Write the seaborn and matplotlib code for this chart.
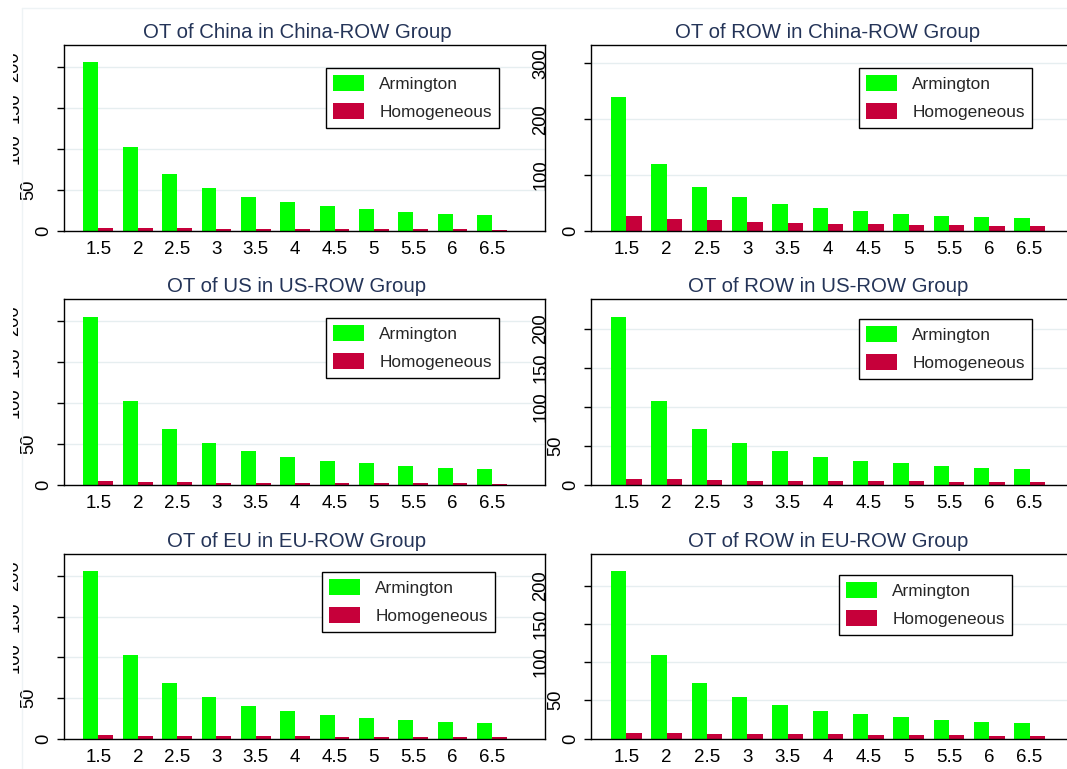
import pandas as pd
import numpy as np
import matplotlib
matplotlib.use("Agg")
import matplotlib.pyplot as plt
from matplotlib.transforms import blended_transform_factory, ScaledTranslation, Bbox
from matplotlib.lines import Line2D
import seaborn as sns

# === Data ===
sigma_labels = ["1.5", "2", "2.5", "3", "3.5", "4", "4.5", "5", "5.5", "6", "6.5"]

china_arm = [205.7, 102.8, 69.5, 52.0, 41.8, 35.0, 30.1, 26.4, 23.6, 21.1, 19.1]
china_hom = [3.7, 3.6, 3.4, 2.8, 2.7, 2.6, 2.4, 2.2, 2.0, 1.9, 1.8]
row_china_arm = [240.3, 119.9, 79.3, 60.2, 48.9, 41.1, 35.2, 31.0, 27.4, 25.0, 22.7]
row_china_hom = [26.2, 21.5, 19.7, 16.7, 14.9, 13.1, 12.5, 11.3, 10.1, 9.7, 8.9]
us_arm = [205.3, 102.4, 68.3, 51.6, 41.1, 34.6, 29.3, 26.4, 23.2, 20.7, 19.1]
us_hom = [4.5, 3.8, 3.5, 3.0, 2.8, 2.6, 2.3, 2.1, 2.0, 1.9, 1.8]
row_us_arm = [215.8, 107.7, 71.8, 53.8, 43.2, 36.3, 30.8, 27.8, 24.4, 21.8, 20.1]
row_us_hom = [7.7, 7.3, 6.4, 5.6, 5.5, 5.3, 4.7, 4.5, 4.3, 3.9, 3.7]
eu_arm = [206.1, 102.6, 68.1, 50.9, 40.6, 33.6, 28.7, 25.0, 22.5, 20.1, 18.8]
eu_hom = [4.1, 3.5, 3.3, 2.8, 2.7, 2.5, 2.3, 2.1, 2.0, 1.9, 1.8]
row_eu_arm = [219.6, 109.8, 73.2, 54.9, 44.0, 36.6, 31.4, 28.3, 24.8, 22.2, 20.9]
row_eu_hom = [7.8, 7.4, 6.5, 6.3, 5.6, 5.4, 4.8, 4.7, 4.5, 3.9, 3.8]

titles = ["OT of China in China-ROW Group", "OT of ROW in China-ROW Group",
          "OT of US in US-ROW Group", "OT of ROW in US-ROW Group",
          "OT of EU in EU-ROW Group", "OT of ROW in EU-ROW Group"]
series = [(china_arm, china_hom), (row_china_arm, row_china_hom),
          (us_arm, us_hom), (row_us_arm, row_us_hom),
          (eu_arm, eu_hom), (row_eu_arm, row_eu_hom)]
yticks = [[0, 50, 100, 150, 200], [0, 100, 200, 300],
          [0, 50, 100, 150, 200], [0, 50, 100, 150, 200],
          [0, 50, 100, 150, 200], [0, 50, 100, 150, 200]]
ytop = [226.8, 332.7, 226.8, 238.5, 227.3, 241.2]
models = ["Armington", "Homogeneous"]
palette = {"Armington": "#00ff00", "Homogeneous": "#c6003a"}

# === Layout in pixels (figure is 1067 x 769) ===
W, H, DPI = 1067, 769, 100
rows_px = [(45, 231), (299, 485), (554, 738.5)]
cols_px = [(64, 545), (591, 1084)]
title_x_px = [297, 828]
legend_px = [(326, 68), (859, 68), (326, 318), (859, 319), (322, 572), (839, 575)]

sns.set_style("white")
plt.rcParams['font.family'] = ['Liberation Sans', 'DejaVu Sans']

fig = plt.figure(figsize=(W / DPI, H / DPI), dpi=DPI, facecolor="white")

# faint sub-graph border of the combined image
fig.add_artist(Line2D([22 / W, 22 / W], [0, 1 - 8 / H], transform=fig.transFigure,
                      color="#eef3f5", linewidth=1))
fig.add_artist(Line2D([22 / W, 1], [1 - 8 / H, 1 - 8 / H], transform=fig.transFigure,
                      color="#eef3f5", linewidth=1))

for i, (title, (arm, hom)) in enumerate(zip(titles, series)):
    r, c = divmod(i, 2)
    y0, y1 = rows_px[r]
    x0, x1 = cols_px[c]
    ax = fig.add_axes([x0 / W, 1 - y1 / H, (x1 - x0) / W, (y1 - y0) / H])

    df = pd.DataFrame({
        "sigma": sigma_labels * 2,
        "value": list(arm) + list(hom),
        "model": [models[0]] * len(arm) + [models[1]] * len(hom),
    })
    sns.barplot(data=df, x="sigma", y="value", hue="model", order=sigma_labels,
                hue_order=models, palette=palette, saturation=1, width=0.76,
                linewidth=0, ax=ax, legend=True)

    ax.set_xlim(-0.875, 11.35)
    ax.set_ylim(0, ytop[i])
    ax.set_xlabel("")
    ax.set_ylabel("")
    ax.set_yticks(yticks[i])
    ax.yaxis.grid(True, color="#e6eef0", linewidth=1)
    ax.set_axisbelow(True)
    ax.tick_params(axis="x", length=0, pad=7.5, labelsize=13.5, colors="black")
    ax.tick_params(axis="y", left=True, length=5, width=1, direction="out",
                   labelleft=False, color="black")
    for s in ax.spines.values():
        s.set_color("black")
        s.set_linewidth(1.0)

    # rotated y labels, Stata-like staggered placement
    for v in yticks[i]:
        lab = str(v)
        dx = {1: -20, 2: -35, 3: -50}[len(lab)]
        tr = blended_transform_factory(ax.transAxes, ax.transData) + \
            ScaledTranslation(dx / DPI, 0, fig.dpi_scale_trans)
        t = ax.text(0, v, lab, transform=tr, rotation=90, ha="center", va="center",
                    fontsize=13.2, color="black", clip_on=False)
        if c == 0:
            t.set_clip_box(Bbox([[13, 0], [W, H]]))
            t.set_clip_on(True)

    ax.set_title(title, fontsize=14.7, color="#243458", pad=5,
                 x=(title_x_px[c] - x0) / (x1 - x0))

    handles, labels = ax.get_legend_handles_labels()
    ax.get_legend().remove()
    lx, ly = legend_px[i]
    leg = ax.legend(handles, labels, loc="upper left",
                    bbox_to_anchor=(lx / W, 1 - ly / H), bbox_transform=fig.transFigure,
                    borderaxespad=0, fontsize=12.4, handlelength=1.8, handleheight=1.05,
                    handletextpad=0.88, labelspacing=0.66, borderpad=0.42,
                    fancybox=False, framealpha=1, edgecolor="black")
    leg.get_frame().set_linewidth(1.0)

fig.savefig("out.png", dpi=DPI, facecolor="white")
